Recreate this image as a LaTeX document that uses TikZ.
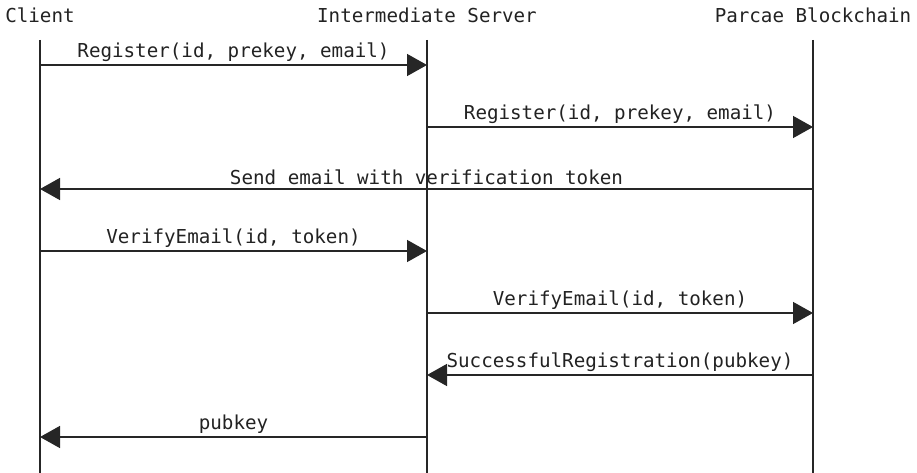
\documentclass[tikz,border=0pt]{standalone}
\usepackage{fontspec}
\setmonofont{DejaVu Sans Mono}
\usetikzlibrary{arrows.meta}
\definecolor{inkline}{HTML}{262626}
\definecolor{inktext}{HTML}{222222}

\tikzset{
  actor/.style={font=\ttfamily\fontsize{19.2}{20}\selectfont, text=inktext, inner sep=0pt},
  lifeline/.style={inkline, line width=1.6pt},
  msg/.style={-{Triangle[length=20pt, width=22pt]}, inkline, line width=1.5pt},
  msglabel/.style={font=\ttfamily\fontsize{19.2}{20}\selectfont, text=inktext,
    above=3pt, inner sep=0pt, midway}
}

\begin{document}
\begin{tikzpicture}[x=1pt, y=-1pt]
  \useasboundingbox (0,0) rectangle (917,473);

  % ============== Actors ==============
  \node[actor] (client) at (40,15) {Client};
  \node[actor] (server) at (427,15) {Intermediate Server};
  \node[actor] (chain) at (813,15) {Parcae Blockchain};

  % Lifelines
  \coordinate (clientend) at (40,473);
  \coordinate (serverend) at (427,473);
  \coordinate (chainend) at (813,473);
  \draw[lifeline] (client.south |- 0,40) -- (clientend);
  \draw[lifeline] (server.south |- 0,40) -- (serverend);
  \draw[lifeline] (chain.south |- 0,40) -- (chainend);

  % Message rows on each lifeline
  \foreach \y [count=\i] in {65,127,189,251,313,375,437} {
    \coordinate (c\i) at (40,\y);
    \coordinate (s\i) at (427,\y);
    \coordinate (b\i) at (813,\y);
  }

  % ============== Messages ==============
  \draw[msg] (c1) -- (s1) node[msglabel] {Register(id, prekey, email)};
  \draw[msg] (s2) -- (b2) node[msglabel] {Register(id, prekey, email)};
  \draw[msg] (b3) -- (c3) node[msglabel] {Send email with verification token};
  \draw[msg] (c4) -- (s4) node[msglabel] {VerifyEmail(id, token)};
  \draw[msg] (s5) -- (b5) node[msglabel] {VerifyEmail(id, token)};
  \draw[msg] (b6) -- (s6) node[msglabel] {SuccessfulRegistration(pubkey)};
  \draw[msg] (s7) -- (c7) node[msglabel] {pubkey};

\end{tikzpicture}
\end{document}
